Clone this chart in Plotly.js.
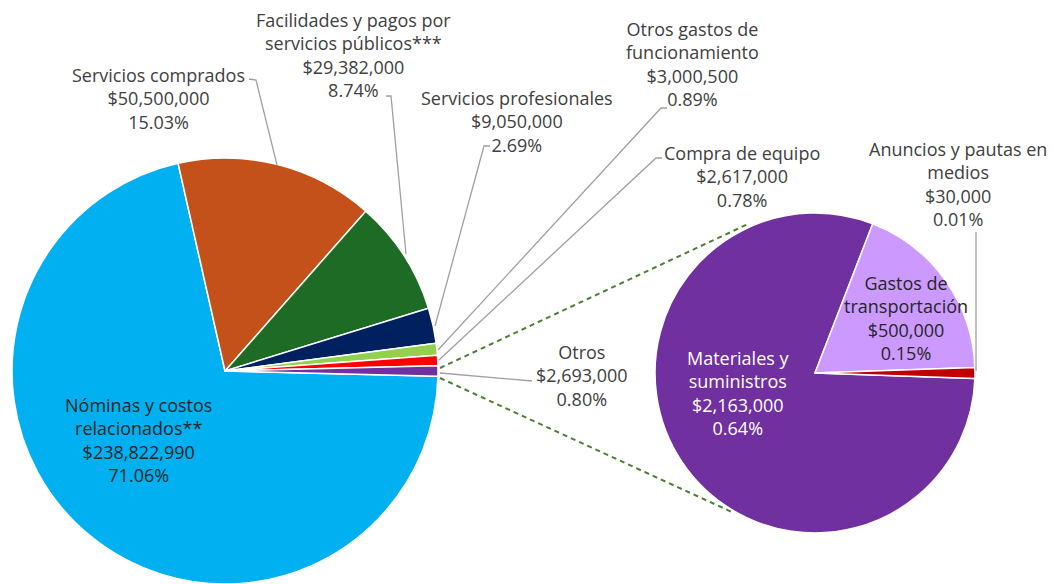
<!DOCTYPE html>
<html>
<head>
<meta charset="utf-8">
<script src="https://cdn.plot.ly/plotly-3.0.1.min.js"></script>
<style>html,body{margin:0;padding:0;background:#fff;}#chart{width:1054px;height:584px;}</style>
</head>
<body>
<div id="chart"></div>
<script>
// ---- Data ----
const mainLabels = ["Nóminas y costos<br>relacionados**", "Servicios comprados", "Facilidades y pagos por<br>servicios públicos***", "Servicios profesionales", "Otros gastos de<br>funcionamiento", "Compra de equipo", "Otros"];
const mainValues = [238822990, 50500000, 29382000, 9050000, 3000500, 2617000, 2693000];
const mainColors = ["#00B0F0", "#C4511A", "#1D6B24", "#002060", "#92D050", "#FF0000", "#7030A0"];

const subLabels = ["Materiales y<br>suministros", "Gastos de<br>transportación", "Anuncios y pautas en<br>medios"];
const subValues = [2163000, 500000, 30000];
const subColors = ["#7030A0", "#CC99FF", "#C00000"];

const W = 1054, H = 584;
const total = mainValues.reduce((a, b) => a + b, 0);
const subTotal = subValues.reduce((a, b) => a + b, 0);
const fmt = v => "$" + v.toLocaleString("en-US");
const pct = v => (v / total * 100).toFixed(2) + "%";
const px = (x, y) => [x / W, 1 - y / H];

// rotation so the "Otros" slice is centred on 3 o'clock
const mainRot = 90 + (mainValues[mainValues.length - 1] / total * 360) / 2;
const subRot = 90 + (subValues[subValues.length - 1] / subTotal * 360) / 2;

const traces = [
  {
    type: "pie", values: mainValues, labels: mainLabels.map(s => s.replace(/<br>/g, " ")),
    sort: false, direction: "clockwise", rotation: mainRot,
    marker: {colors: mainColors, line: {color: "#ffffff", width: 1.5}},
    textinfo: "none", hoverinfo: "label+value+percent", showlegend: false,
    domain: {x: [12 / W, 438 / W], y: [0, 426 / H]}
  },
  {
    type: "pie", values: subValues, labels: subLabels.map(s => s.replace(/<br>/g, " ")),
    sort: false, direction: "clockwise", rotation: subRot,
    marker: {colors: subColors, line: {color: "#ffffff", width: 1.5}},
    textinfo: "none", hoverinfo: "label+value", showlegend: false,
    domain: {x: [655 / W, 975 / W], y: [51 / H, 371 / H]}
  }
];

// label layout (pixel centres), colours
const mainPos = [[138, 440, "#262626"], [158, 98.5, "#404040"], [353, 54.5, "#404040"], [517, 121, "#404040"], [692, 64, "#404040"], [742, 176, "#404040"], [582, 375, "#404040"]];
const subPos = [[738, 393, "#ffffff"], [906, 318, "#262626"], [958, 184, "#404040"]];

const font = {family: "Open Sans, Noto Sans, sans-serif", size: 18};
const annotations = [];
mainLabels.forEach((lab, i) => {
  const p = px(mainPos[i][0], mainPos[i][1]);
  annotations.push({xref: "paper", yref: "paper", x: p[0], y: p[1], xanchor: "center", yanchor: "middle",
    showarrow: false, align: "center", text: lab + "<br>" + fmt(mainValues[i]) + "<br>" + pct(mainValues[i]),
    font: Object.assign({}, font, {color: mainPos[i][2]})});
});
subLabels.forEach((lab, i) => {
  const p = px(subPos[i][0], subPos[i][1]);
  annotations.push({xref: "paper", yref: "paper", x: p[0], y: p[1], xanchor: "center", yanchor: "middle",
    showarrow: false, align: "center", text: lab + "<br>" + fmt(subValues[i]) + "<br>" + pct(subValues[i]),
    font: Object.assign({}, font, {color: subPos[i][2]})});
});

// leader lines and connectors (pixel coordinates)
const leaders = [
  [[249, 79], [256, 80], [277, 165]],
  [[386, 96], [391, 96], [406, 254]],
  [[490, 146], [484, 146], [435, 326]],
  [[667, 108], [661, 108], [438, 350]],
  [[662, 158], [656, 158], [439, 360]],
  [[440, 373], [532, 381]],
  [[976, 232], [976, 371]]
];
const connectors = [
  [[440, 368], [748, 224]],
  [[440, 378], [734, 513]]
];
const toPath = pts => pts.map((q, k) => { const p = px(q[0], q[1]); return (k ? "L" : "M") + p[0] + "," + p[1]; }).join(" ");
const shapes = [];
leaders.forEach(pts => shapes.push({type: "path", xref: "paper", yref: "paper", path: toPath(pts), line: {color: "#a0a0a0", width: 1.3}}));
connectors.forEach(pts => shapes.push({type: "path", xref: "paper", yref: "paper", path: toPath(pts), line: {color: "#4F7D35", width: 2, dash: "5px,4px"}}));

const layout = {
  width: W, height: H,
  margin: {l: 0, r: 0, t: 0, b: 0},
  paper_bgcolor: "#ffffff", plot_bgcolor: "#ffffff",
  showlegend: false,
  annotations: annotations,
  shapes: shapes
};
Plotly.newPlot("chart", traces, layout, {displayModeBar: false, staticPlot: true});
</script>
</body>
</html>
